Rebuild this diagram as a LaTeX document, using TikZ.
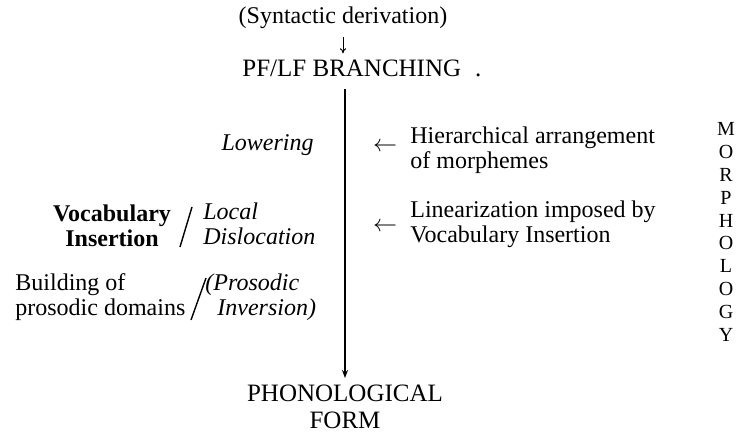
\documentclass[tikz,border=0pt]{standalone}
\usepackage{fontspec}
\setmainfont{Liberation Serif}
\usetikzlibrary{arrows.meta}
\begin{document}
\begin{tikzpicture}[x=0.5pt,y=-0.5pt,
  txt/.style={inner sep=1pt,font=\fontsize{12}{12.5}\selectfont},
  itxt/.style={inner sep=1pt,font=\fontsize{12}{12.5}\selectfont\itshape},
  btxt/.style={inner sep=1pt,font=\fontsize{12}{12.5}\selectfont\bfseries},
  big/.style={inner sep=1pt,font=\fontsize{12.5}{13.5}\selectfont},
  mainline/.style={line width=1pt,shorten >=2.5pt,-{Stealth[length=4pt,width=3pt]}},
  slash/.style={line width=0.7pt},
  smallarrow/.style={line width=0.5pt,-{To[length=2.5pt,width=3pt]}}]
\useasboundingbox (0,0) rectangle (746,435);

% main derivation spine
\node[txt] (syn) at (343,18) {(Syntactic derivation)};
\node[big,anchor=west] (pf) at (240,68) {PF/LF BRANCHING\hspace{7pt}.};
\node[big,align=center,anchor=north,inner sep=1pt] (phon) at (345,383) {PHONOLOGICAL\\FORM};
\draw[smallarrow] (syn.south) ++(0,6) -- ++(0,16);
\draw[mainline] (pf.south -| phon.north) ++(0,10) -- (phon.north);

% operations on the left of the spine
\node[itxt,anchor=east] (low) at (316,145) {Lowering};
\node[btxt,align=center] (vi) at (112,226) {Vocabulary\\Insertion};
\node[itxt,align=left,anchor=west] (ld) at (201,224) {Local\\Dislocation};
\node[txt,align=left,anchor=west] (bp) at (13,297) {Building of\\prosodic domains};
\node[itxt,align=left,anchor=west] (pi) at (203,297) {(Prosodic\\\hspace*{6pt}Inversion)};
\draw[slash] (192,207) -- (180,247);
\draw[slash] (206,278) -- (191,320);

% what the morphology supplies, on the right
\node[txt] (a1) at (385,147) {$\leftarrow$};
\node[txt,align=left,anchor=west] (hier) at (408,150) {Hierarchical arrangement\\of morphemes};
\node[txt] (a2) at (385,227) {$\leftarrow$};
\node[txt,align=left,anchor=west] (lin) at (408,224) {Linearization imposed by\\Vocabulary Insertion};

\node[inner sep=0pt,align=center,font=\fontsize{10}{11.4}\selectfont] (morph) at (726,232)
  {M\\O\\R\\P\\H\\O\\L\\O\\G\\Y};
\end{tikzpicture}
\end{document}
